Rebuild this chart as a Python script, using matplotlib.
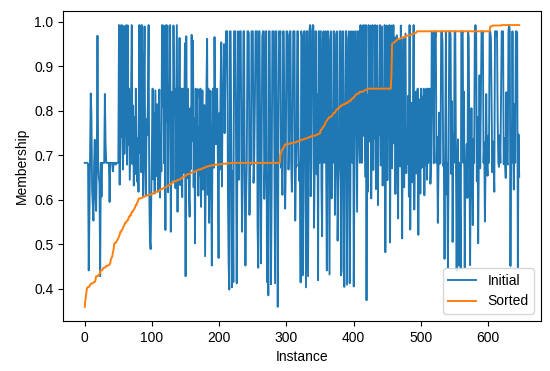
import matplotlib
matplotlib.use("Agg")
import matplotlib.pyplot as plt
import numpy as np

plt.rcParams["font.family"] = ["Liberation Sans", "DejaVu Sans"]
plt.rcParams["font.size"] = 10

# membership per instance, in original order
initial = [
    # 0-49
    0.683, 0.683, 0.683, 0.683, 0.683, 0.681, 0.441, 0.562, 0.712, 0.839,
    0.79, 0.624, 0.588, 0.553, 0.683, 0.735, 0.611, 0.575, 0.683, 0.969,
    0.683, 0.652, 0.636, 0.428, 0.683, 0.607, 0.683, 0.683, 0.683, 0.683,
    0.838, 0.728, 0.683, 0.683, 0.683, 0.683, 0.683, 0.595, 0.683, 0.683,
    0.683, 0.683, 0.664, 0.683, 0.683, 0.683, 0.679, 0.683, 0.683, 0.683,
    # 50-139
    0.683, 0.993, 0.634, 0.992, 0.741, 0.993, 0.728, 0.668, 0.991, 0.703,
    0.768, 0.85, 0.993, 0.679, 0.992, 0.724, 0.85, 0.645, 0.744, 0.85,
    0.993, 0.68, 0.812, 0.632, 0.786, 0.658, 0.85, 0.725, 0.641, 0.738,
    0.618, 0.993, 0.705, 0.992, 0.662, 0.993, 0.803, 0.608, 0.85, 0.99,
    0.676, 0.612, 0.781, 0.745, 0.822, 0.993, 0.615, 0.511, 0.489, 0.603,
    0.732, 0.85, 0.646, 0.795, 0.614, 0.846, 0.748, 0.653, 0.815, 0.62,
    0.767, 0.848, 0.605, 0.731, 0.664, 0.993, 0.809, 0.992, 0.682, 0.99,
    0.532, 0.993, 0.776, 0.992, 0.617, 0.85, 0.828, 0.993, 0.528, 0.735,
    0.843, 0.644, 0.992, 0.818, 0.85, 0.626, 0.799, 0.993, 0.573, 0.85,
    # 140-209
    0.728, 0.964, 0.633, 0.85, 0.716, 0.606, 0.85, 0.661, 0.758, 0.952,
    0.428, 0.968, 0.648, 0.85, 0.742, 0.617, 0.562, 0.806, 0.669, 0.971,
    0.733, 0.958, 0.628, 0.784, 0.502, 0.85, 0.666, 0.821, 0.849, 0.609,
    0.763, 0.655, 0.85, 0.584, 0.729, 0.846, 0.623, 0.677, 0.813, 0.473,
    0.657, 0.85, 0.962, 0.611, 0.85, 0.548, 0.738, 0.845, 0.642, 0.452,
    0.744, 0.85, 0.672, 0.966, 0.788, 0.725, 0.843, 0.85, 0.678, 0.469,
    0.795, 0.668, 0.85, 0.954, 0.63, 0.818, 0.85, 0.95, 0.75, 0.85,
    # 210-409
    0.979, 0.979, 0.979, 0.612, 0.455, 0.398, 0.979, 0.979, 0.677, 0.403,
    0.664, 0.415, 0.979, 0.979, 0.979, 0.725, 0.412, 0.683, 0.979, 0.645,
    0.972, 0.979, 0.979, 0.683, 0.528, 0.681, 0.979, 0.979, 0.625, 0.452,
    0.604, 0.683, 0.979, 0.979, 0.975, 0.566, 0.742, 0.679, 0.979, 0.979,
    0.979, 0.638, 0.683, 0.815, 0.979, 0.979, 0.979, 0.541, 0.447, 0.979,
    0.979, 0.68, 0.457, 0.683, 0.968, 0.979, 0.979, 0.602, 0.682, 0.979,
    0.979, 0.415, 0.658, 0.385, 0.979, 0.979, 0.683, 0.41, 0.631, 0.979,
    0.979, 0.979, 0.683, 0.412, 0.979, 0.979, 0.681, 0.359, 0.717, 0.979,
    0.964, 0.979, 0.672, 0.683, 0.611, 0.979, 0.979, 0.734, 0.58, 0.683,
    0.979, 0.979, 0.97, 0.668, 0.76, 0.979, 0.979, 0.683, 0.618, 0.682,
    0.979, 0.979, 0.979, 0.553, 0.683, 0.675, 0.979, 0.979, 0.727, 0.642,
    0.683, 0.414, 0.979, 0.966, 0.43, 0.594, 0.979, 0.979, 0.679, 0.403,
    0.979, 0.979, 0.428, 0.683, 0.979, 0.993, 0.608, 0.674, 0.979, 0.993,
    0.992, 0.537, 0.683, 0.979, 0.979, 0.657, 0.838, 0.419, 0.979, 0.683,
    0.979, 0.979, 0.627, 0.518, 0.962, 0.979, 0.683, 0.744, 0.979, 0.668,
    0.441, 0.979, 0.979, 0.681, 0.432, 0.957, 0.979, 0.603, 0.802, 0.683,
    0.979, 0.979, 0.566, 0.676, 0.973, 0.979, 0.508, 0.639, 0.683, 0.979,
    0.979, 0.43, 0.44, 0.979, 0.979, 0.662, 0.404, 0.729, 0.979, 0.979,
    0.409, 0.68, 0.961, 0.979, 0.412, 0.62, 0.979, 0.955, 0.683, 0.979,
    0.405, 0.649, 0.979, 0.979, 0.782, 0.573, 0.979, 0.979, 0.735, 0.683,
    # 410-499
    0.993, 0.812, 0.683, 0.992, 0.744, 0.993, 0.827, 0.652, 0.993, 0.374,
    0.836, 0.618, 0.993, 0.85, 0.731, 0.992, 0.603, 0.842, 0.993, 0.667,
    0.85, 0.738, 0.993, 0.624, 0.831, 0.992, 0.588, 0.85, 0.746, 0.993,
    0.677, 0.847, 0.99, 0.632, 0.85, 0.725, 0.993, 0.482, 0.793, 0.992,
    0.644, 0.85, 0.739, 0.993, 0.504, 0.848, 0.992, 0.671, 0.85, 0.993,
    0.727, 0.965, 0.613, 0.844, 0.97, 0.741, 0.558, 0.958, 0.822, 0.675,
    0.992, 0.736, 0.513, 0.85, 0.962, 0.628, 0.805, 0.974, 0.66, 0.749,
    0.681, 0.834, 0.607, 0.993, 0.533, 0.722, 0.818, 0.639, 0.774, 0.993,
    0.578, 0.729, 0.843, 0.659, 0.787, 0.85, 0.521, 0.712, 0.826, 0.614,
    # 500-646
    0.85, 0.672, 0.832, 0.683, 0.85, 0.61, 0.757, 0.678, 0.85, 0.645,
    0.85, 0.683, 0.727, 0.85, 0.636, 0.683, 0.979, 0.975, 0.813, 0.682,
    0.979, 0.966, 0.979, 0.683, 0.741, 0.548, 0.665, 0.796, 0.681, 0.683,
    0.979, 0.979, 0.953, 0.676, 0.683, 0.467, 0.733, 0.979, 0.612, 0.683,
    0.447, 0.683, 0.979, 0.979, 0.971, 0.658, 0.822, 0.505, 0.748, 0.683,
    0.979, 0.979, 0.683, 0.441, 0.681, 0.736, 0.452, 0.683, 0.627, 0.445,
    0.979, 0.974, 0.979, 0.683, 0.843, 0.448, 0.669, 0.677, 0.725, 0.604,
    0.979, 0.965, 0.683, 0.453, 0.679, 0.806, 0.683, 0.543, 0.737, 0.683,
    0.979, 0.993, 0.979, 0.642, 0.786, 0.502, 0.683, 0.88, 0.671, 0.817,
    0.979, 0.973, 0.979, 0.683, 0.729, 0.551, 0.679, 0.838, 0.68, 0.654,
    0.744, 0.683, 0.979, 0.979, 0.962, 0.809, 0.662, 0.731, 0.682, 0.618,
    0.979, 0.979, 0.969, 0.979, 0.778, 0.683, 0.674, 0.745, 0.683, 0.827,
    0.979, 0.97, 0.979, 0.68, 0.739, 0.683, 0.649, 0.842, 0.683, 0.679,
    0.979, 0.993, 0.979, 0.451, 0.764, 0.683, 0.979, 0.726, 0.623, 0.815,
    0.683, 0.979, 0.979, 0.976, 0.448, 0.747, 0.652,
]
sorted_vals = np.sort(initial)

fig = plt.figure(figsize=(5.5, 3.71), dpi=100)
ax = fig.add_axes([0.1145, 0.1348, 0.869, 0.8356])
ax.plot(initial, color="#1f77b4", lw=1.35, label="Initial")
ax.plot(sorted_vals, color="#ff7f0e", lw=1.4, label="Sorted")
ax.set_xlabel("Instance")
ax.set_ylabel("Membership")
ax.legend(loc="lower right")
fig.savefig("out.png", dpi=100)
